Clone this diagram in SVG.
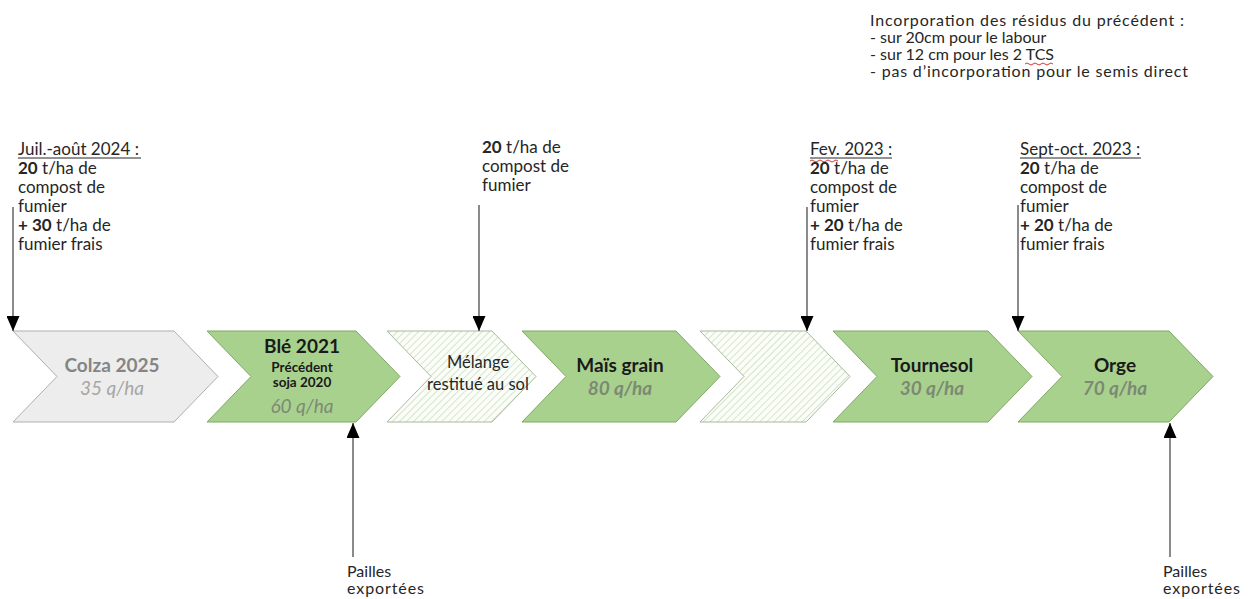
<svg xmlns="http://www.w3.org/2000/svg" width="1250" height="599" viewBox="0 0 1250 599">
  <style>
    text { font-family: Lato, "Liberation Sans", sans-serif; }
    .note { font-size: 17px; fill: #262626; }
    .tight { font-size: 16px; fill: #262626; }
    .b { font-weight: bold; }
    .green { fill: #A9D18E; stroke: #7FA866; stroke-width: 1; }
    .grey { fill: #EDEDED; stroke: #AFAFAF; stroke-width: 1; }
    .hatch { fill: url(#diag); stroke: #A8B89E; stroke-width: 1; }
    .title { font-size: 19px; font-weight: bold; text-anchor: middle; fill: #1A1A1A; }
    .yield { font-size: 19px; font-style: italic; text-anchor: middle; fill: #7C8A74; }
    .small { font-size: 13.5px; font-weight: bold; text-anchor: middle; fill: #1A1A1A; }
    .mid { font-size: 16.5px; text-anchor: middle; fill: #262626; }
    .link { stroke: #595959; stroke-width: 1.4; fill: none; }
    .wave { stroke: #D02020; stroke-width: 0.9; fill: none; }
  </style>
  <defs>
    <pattern id="diag" width="5" height="5" patternUnits="userSpaceOnUse" patternTransform="rotate(45)">
      <rect width="5" height="5" fill="#FBFDF8"/>
      <line x1="0" y1="0" x2="0" y2="5" stroke="#C9DEBB" stroke-width="1.5"/>
    </pattern>
    <marker id="head" viewBox="0 0 15 13" refX="15" refY="6.5" markerWidth="15" markerHeight="13" markerUnits="userSpaceOnUse" orient="auto">
      <path d="M0,0 L15,6.5 L0,13 Z" fill="#000"/>
    </marker>
  </defs>

  <!-- note on residue incorporation -->
  <g id="note-incorporation" class="tight">
    <text x="870" y="26" textLength="314" lengthAdjust="spacing">Incorporation des résidus du précédent :</text>
    <text x="870" y="43">- sur 20cm pour le labour</text>
    <text x="870" y="60">- sur 12 cm pour les 2 TCS</text>
    <text x="870" y="77" textLength="318" lengthAdjust="spacing">- pas d’incorporation pour le semis direct</text>
    <path class="wave" d="M1025,64 q2,-2 4,0 t4,0 t4,0 t4,0 t4,0 t4,0 t4,0"/>
  </g>

  <!-- manure inputs -->
  <g id="apport-juil-aout-2024" class="note">
    <text x="18" y="155">Juil.-août 2024 :</text>
    <line x1="18" y1="158" x2="141" y2="158" stroke="#262626" stroke-width="1"/>
    <text x="18" y="174"><tspan class="b">20</tspan> t/ha de</text>
    <text x="18" y="193">compost de</text>
    <text x="18" y="212">fumier</text>
    <text x="18" y="231"><tspan class="b">+ 30</tspan> t/ha de</text>
    <text x="18" y="250">fumier frais</text>
  </g>
  <g id="apport-compost" class="note">
    <text x="482" y="153"><tspan class="b">20</tspan> t/ha de</text>
    <text x="482" y="172">compost de</text>
    <text x="482" y="191">fumier</text>
  </g>
  <g id="apport-fev-2023" class="note">
    <text x="810" y="155">Fev. 2023 :</text>
    <line x1="810" y1="158" x2="892" y2="158" stroke="#262626" stroke-width="1"/>
    <path class="wave" d="M810,161 q2,-2 4,0 t4,0 t4,0 t4,0 t4,0 t4,0 t4,0"/>
    <text x="810" y="174"><tspan class="b">20</tspan> t/ha de</text>
    <text x="810" y="193">compost de</text>
    <text x="810" y="212">fumier</text>
    <text x="810" y="231"><tspan class="b">+ 20</tspan> t/ha de</text>
    <text x="810" y="250">fumier frais</text>
  </g>
  <g id="apport-sept-oct-2023" class="note">
    <text x="1020" y="155">Sept-oct. 2023 :</text>
    <line x1="1020" y1="158" x2="1141" y2="158" stroke="#262626" stroke-width="1"/>
    <text x="1020" y="174"><tspan class="b">20</tspan> t/ha de</text>
    <text x="1020" y="193">compost de</text>
    <text x="1020" y="212">fumier</text>
    <text x="1020" y="231"><tspan class="b">+ 20</tspan> t/ha de</text>
    <text x="1020" y="250">fumier frais</text>
  </g>

  <!-- crop sequence -->
  <g id="colza-2025">
    <path class="grey" d="M13,331 H174 L218,376.5 L174,422 H13 L57,376.5 Z"/>
    <text class="title" x="112" y="372" style="fill:#858585">Colza 2025</text>
    <text class="yield" x="112" y="395" style="fill:#A6A6A6">35 q/ha</text>
  </g>
  <g id="ble-2021">
    <path class="green" d="M207,331 H356 L400,376.5 L356,422 H207 L251,376.5 Z"/>
    <text class="title" x="302" y="353">Blé 2021</text>
    <text class="small" x="302" y="372">Précédent</text>
    <text class="small" x="302" y="387">soja 2020</text>
    <text class="yield" x="302" y="413">60 q/ha</text>
  </g>
  <g id="melange">
    <path class="hatch" d="M387,331 H492 L536,376.5 L492,422 H387 L431,376.5 Z"/>
    <text class="mid" x="478" y="368">Mélange</text>
    <text class="mid" x="478" y="390">restitué au sol</text>
  </g>
  <g id="mais-grain">
    <path class="green" d="M522,331 H676 L720,376.5 L676,422 H522 L566,376.5 Z"/>
    <text class="title" x="620" y="372">Maïs grain</text>
    <text class="yield b" x="620" y="395">80 q/ha</text>
  </g>
  <g id="interculture">
    <path class="hatch" d="M700,331 H806 L850,376.5 L806,422 H700 L744,376.5 Z"/>
  </g>
  <g id="tournesol">
    <path class="green" d="M833,331 H988 L1032,376.5 L988,422 H833 L877,376.5 Z"/>
    <text class="title" x="932" y="372">Tournesol</text>
    <text class="yield b" x="932" y="395">30 q/ha</text>
  </g>
  <g id="orge">
    <path class="green" d="M1018,331 H1169 L1213,376.5 L1169,422 H1018 L1062,376.5 Z"/>
    <text class="title" x="1115" y="372">Orge</text>
    <text class="yield b" x="1115" y="395">70 q/ha</text>
  </g>

  <!-- straw export labels -->
  <g id="pailles-ble" class="tight">
    <text x="347" y="577">Pailles</text>
    <text x="347" y="594" textLength="77" lengthAdjust="spacing">exportées</text>
  </g>
  <g id="pailles-orge" class="tight">
    <text x="1163" y="577">Pailles</text>
    <text x="1163" y="594" textLength="77" lengthAdjust="spacing">exportées</text>
  </g>

  <!-- connectors -->
  <g id="connectors">
    <line class="link" x1="13" y1="207" x2="13" y2="331" marker-end="url(#head)"/>
    <line class="link" x1="479" y1="205" x2="479" y2="331" marker-end="url(#head)"/>
    <line class="link" x1="807" y1="207" x2="807" y2="331" marker-end="url(#head)"/>
    <line class="link" x1="1018" y1="205" x2="1018" y2="331" marker-end="url(#head)"/>
    <line class="link" x1="353" y1="557" x2="353" y2="423" marker-end="url(#head)"/>
    <line class="link" x1="1170" y1="557" x2="1170" y2="423" marker-end="url(#head)"/>
  </g>
</svg>
